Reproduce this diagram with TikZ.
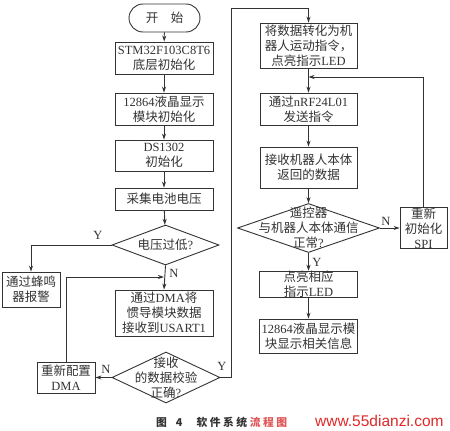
\documentclass[tikz,border=0pt]{standalone}
\usepackage{fontspec}
\setmainfont{Liberation Serif}
\newfontfamily\cjk{Noto Sans CJK SC}
\newfontfamily\wmfont{Liberation Sans}
\usetikzlibrary{shapes.geometric,shapes.misc,arrows.meta}
\newcommand\zh[1]{{\cjk #1}}
\definecolor{ink}{HTML}{333333}
\definecolor{wm}{HTML}{E02828}
\definecolor{capred}{HTML}{E05555}
\tikzset{
  base/.style={draw=ink, line width=0.9pt, text=ink, inner sep=0pt, align=center,
    font={\fontsize{12.5}{15}\selectfont}},
  box/.style={base, rectangle, minimum width=98pt},
  term/.style={base, rounded rectangle, minimum width=71pt, minimum height=28pt},
  dia/.style={draw=ink, line width=0.9pt, diamond, inner sep=0pt},
  dtxt/.style={text=ink, inner sep=0pt, align=center, font={\fontsize{12.5}{15}\selectfont}},
  arr/.style={draw=ink, line width=0.9pt, -{Stealth[length=6pt,width=4pt]}},
  lab/.style={text=ink, inner sep=0pt, font={\fontsize{12.5}{15}\selectfont}},
}
\begin{document}
\begin{tikzpicture}[x=1pt,y=-1pt]
\useasboundingbox[fill=white] (0,0) rectangle (450,431);
% left column
\node[term] (start) at (164.5,18) {\zh{开　始}};
\node[box, minimum height=32pt] (stm) at (164,58) {STM32F103C8T6\\\zh{底层初始化}};
\node[box, minimum height=32pt] (lcd) at (164,109) {12864\zh{液晶显示}\\\zh{模块初始化}};
\node[box, minimum height=31pt] (ds) at (164,155.5) {DS1302\\\zh{初始化}};
\node[box, minimum height=22pt] (adc) at (164,199) {\zh{采集电池电压}};
\node[dia, minimum width=107pt, minimum height=40pt] (d1) at (165.5,245) {};
\node[dtxt] at (d1) {\zh{电压过低}?};
\node[box, minimum width=58pt, minimum height=35pt] (alarm) at (31,289.5) {\zh{通过蜂鸣}\\\zh{器报警}};
\node[box, minimum height=46pt] (dma) at (164,313) {\zh{通过}DMA\zh{将}\\\zh{惯导模块数据}\\\zh{接收到}USART1};
\node[dia, minimum width=108pt, minimum height=51pt] (d2) at (166,377.5) {};
\node[dtxt] at (d2) {\zh{接收}\\\zh{的数据校验}\\\zh{正确}?};
\node[box, minimum width=58pt, minimum height=31pt] (redma) at (66,377.5) {\zh{重新配置}\\DMA};
% right column
\node[box, minimum width=97pt, minimum height=45pt] (conv) at (308.5,45.5) {\zh{将数据转化为机}\\\zh{器人运动指令，}\\\zh{点亮指示}LED};
\node[box, minimum width=97pt, minimum height=32pt] (nrf) at (308.5,109) {\zh{通过}nRF24L01\\\zh{发送指令}};
\node[box, minimum width=97pt, minimum height=41pt] (recv) at (308.5,167.5) {\zh{接收机器人本体}\\\zh{返回的数据}};
\node[dia, minimum width=142pt, minimum height=49pt] (d3) at (308.5,228) {};
\node[dtxt] at (d3) {\zh{遥控器}\\\zh{与机器人本体通信}\\\zh{正常}?};
\node[box, minimum width=47pt, minimum height=40pt] (spi) at (423.5,228) {\zh{重新}\\\zh{初始化}\\SPI};
\node[box, minimum width=98pt, minimum height=21pt] (led) at (308.5,284.5) {\zh{点亮相应}\\\zh{指示}LED};
\node[box, minimum width=98pt, minimum height=34pt] (disp) at (308.5,336) {12864\zh{液晶显示模}\\\zh{块显示相关信息}};
% connectors
\draw[arr] (start) -- (stm);
\draw[arr] (stm) -- (lcd);
\draw[arr] (lcd) -- (ds);
\draw[arr] (ds) -- (adc);
\draw[arr] (adc) -- (d1);
\draw[arr] (d1.west) -| (alarm.north);
\node[lab] at (98,235) {Y};
\draw[arr] (d1.south) -- (dma.north);
\node[lab] at (174,273) {N};
\draw[arr] (d2.west) -- (redma.east);
\node[lab] at (106,369) {N};
\coordinate (m1) at (164,277);
\draw[arr] (redma.north) |- (m1);
\coordinate (c1) at (231,8);
\draw[arr] (d2.east) -| (c1) -| (conv.north);
\node[lab] at (222,366) {Y};
\draw[arr] (conv) -- (nrf);
\draw[arr] (nrf) -- (recv);
\draw[arr] (recv) -- (d3);
\draw[arr] (d3.east) -- (spi.west);
\node[lab] at (386,221) {N};
\coordinate (m2) at (308.5,77);
\draw[arr] (spi.north) |- (m2);
\draw[arr] (d3.south) -- (led.north);
\node[lab] at (317,262) {Y};
\draw[arr] (led) -- (disp);
% caption and watermark
\node[anchor=west, inner sep=0pt, text=ink, font={\cjk\bfseries\fontsize{10.8}{12}\selectfont}] (cap) at (156,422)
  {图\hspace{9pt}4\hspace{14pt}软\hspace{2.5pt}件\hspace{2.5pt}系\hspace{2.5pt}统\hspace{2.5pt}\textcolor{capred}{流\hspace{2.5pt}程\hspace{2.5pt}图}};
\node[anchor=west, inner sep=0pt, text=wm, font={\wmfont\fontsize{15.5}{16}\selectfont}] (wmk) at (315,421) {www.55dianzi.com};
\end{tikzpicture}
\end{document}
